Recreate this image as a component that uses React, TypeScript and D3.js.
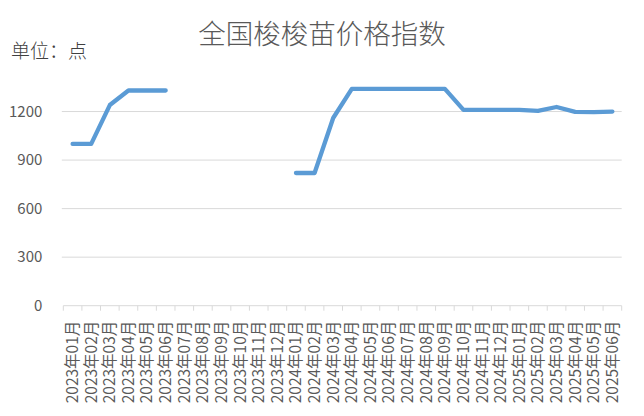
import { useEffect, useRef } from "react";
import * as d3 from "d3";

const months = [
  "2023年01月", "2023年02月", "2023年03月", "2023年04月", "2023年05月", "2023年06月",
  "2023年07月", "2023年08月", "2023年09月", "2023年10月", "2023年11月", "2023年12月",
  "2024年01月", "2024年02月", "2024年03月", "2024年04月", "2024年05月", "2024年06月",
  "2024年07月", "2024年08月", "2024年09月", "2024年10月", "2024年11月", "2024年12月",
  "2025年01月", "2025年02月", "2025年03月", "2025年04月", "2025年05月", "2025年06月",
];

const priceIndex: (number | null)[] = [
  1000, 1000, 1240, 1330, 1330, 1330,
  null, null, null, null, null, null,
  820, 820, 1160, 1340, 1340, 1340,
  1340, 1340, 1340, 1210, 1210, 1210,
  1210, 1204, 1228, 1198, 1196, 1200,
];

const yTicks = [0, 300, 600, 900, 1200];

const title = "全国梭梭苗价格指数";
const unitLabel = "单位：点";

const W = 644;
const H = 416;
const FONT = "'Noto Sans CJK SC', 'Noto Sans', sans-serif";

export default function App() {
  const svgRef = useRef<SVGSVGElement | null>(null);

  useEffect(() => {
    const svg = d3.select(svgRef.current);
    svg.selectAll("*").remove();

    const margin = { top: 63, right: 22.3, bottom: 110.3, left: 63.3 };
    const width = W - margin.left - margin.right;
    const height = H - margin.top - margin.bottom;

    const x = d3.scaleBand<string>().domain(months).range([0, width]);
    const y = d3.scaleLinear().domain([0, 1500]).range([height, 0]);

    const g = svg.append("g").attr("transform", `translate(${margin.left},${margin.top})`);

    // gridlines
    g.selectAll(".grid")
      .data(yTicks.filter(d => d > 0))
      .join("line")
      .attr("x1", -1.5)
      .attr("x2", width)
      .attr("y1", d => y(d))
      .attr("y2", d => y(d))
      .attr("stroke", "#d9d9d9")
      .attr("stroke-width", 1);

    // y labels
    g.selectAll(".ylab")
      .data(yTicks)
      .join("text")
      .attr("x", -21)
      .attr("y", d => y(d))
      .attr("dy", "0.35em")
      .attr("text-anchor", "end")
      .attr("fill", "#595959")
      .style("font-family", FONT)
      .style("font-size", "15px")
      .text(d => d);

    // x axis line and ticks
    g.append("line")
      .attr("x1", 0).attr("x2", width)
      .attr("y1", height).attr("y2", height)
      .attr("stroke", "#d9d9d9");

    const bounds = months.map(m => x(m) as number).concat([width]);
    g.selectAll(".tick")
      .data(bounds)
      .join("line")
      .attr("x1", d => d).attr("x2", d => d)
      .attr("y1", height).attr("y2", height + 5)
      .attr("stroke", "#d9d9d9");

    g.selectAll(".xlab")
      .data(months)
      .join("text")
      .attr("transform", d => `translate(${(x(d) as number) + x.bandwidth() / 2},${height + 15}) rotate(-90)`)
      .attr("text-anchor", "end")
      .attr("dy", "0.35em")
      .attr("fill", "#595959")
      .style("font-family", FONT)
      .style("font-size", "15.5px")
      .text(d => d);

    // line
    const line = d3.line<number | null>()
      .defined(d => d != null)
      .x((_, i) => (x(months[i]) as number) + x.bandwidth() / 2)
      .y(d => y(d as number));

    g.append("path")
      .datum(priceIndex)
      .attr("d", line)
      .attr("fill", "none")
      .attr("stroke", "#5b9bd5")
      .attr("stroke-width", 4.3)
      .attr("stroke-linejoin", "round")
      .attr("stroke-linecap", "round");

    // title and unit
    svg.append("text")
      .attr("x", 322)
      .attr("y", 44)
      .attr("text-anchor", "middle")
      .attr("fill", "#595959")
      .style("font-family", FONT)
      .style("font-weight", 300)
      .style("font-size", "27.5px")
      .text(title);

    svg.append("text")
      .attr("x", 11)
      .attr("y", 58)
      .attr("fill", "#404040")
      .style("font-family", FONT)
      .style("font-weight", 300)
      .style("font-size", "19px")
      .text(unitLabel);
  }, []);

  return (
    <svg
      ref={svgRef}
      width={W}
      height={H}
      style={{ position: "absolute", left: 0, top: 0, background: "#fff" }}
    />
  );
}
